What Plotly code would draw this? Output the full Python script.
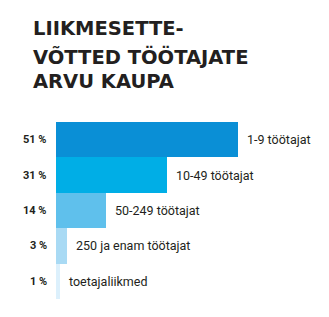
import plotly.graph_objects as go

title_lines = ["LIIKMESETTE-", "VÕTTED TÖÖTAJATE", "ARVU KAUPA"]
categories = ["1-9 töötajat", "10-49 töötajat", "50-249 töötajat", "250 ja enam töötajat", "toetajaliikmed"]
values = [51, 31, 14, 3, 1]
pct_labels = ["51 %", "31 %", "14 %", "3 %", "1 %"]
colors = ["#0a8fd6", "#00aee6", "#5fc0ec", "#a9daf4", "#dcf0fc"]

W, H = 329, 317
ml, mt, mb = 56, 122, 18
xmax = 70
plot_w = xmax * 3.57
mr = W - ml - plot_w
plot_h = H - mt - mb

fig = go.Figure(go.Bar(
    x=values, y=categories, orientation="h",
    marker=dict(color=colors, line=dict(width=0)),
    hoverinfo="skip",
))

ann = []
for c, v, p in zip(categories, values, pct_labels):
    ann.append(dict(x=0, y=c, xref="x", yref="y", text=p, showarrow=False,
                    xanchor="right", yanchor="middle", xshift=-7,
                    font=dict(family="Roboto", size=11, color="#231f20", weight="bold")))
    ann.append(dict(x=v, y=c, xref="x", yref="y", text=c, showarrow=False,
                    xanchor="left", yanchor="middle", xshift=7,
                    font=dict(family="Roboto", size=12.5, color="#231f20")))

title_centers = [28.2, 56.5, 81]
for t, yc in zip(title_lines, title_centers):
    ann.append(dict(x=(31 - ml) / plot_w, y=(H - mb - yc) / plot_h, xref="paper", yref="paper",
                    text=t, showarrow=False, xanchor="left", yanchor="middle",
                    font=dict(family="DejaVu Sans", size=19.5, color="#231f20", weight="bold")))

fig.update_layout(
    width=W, height=H,
    margin=dict(l=ml, r=mr, t=mt, b=mb, pad=0),
    paper_bgcolor="white", plot_bgcolor="white",
    bargap=0, showlegend=False,
    xaxis=dict(range=[0, xmax], visible=False, fixedrange=True),
    yaxis=dict(autorange="reversed", visible=False, fixedrange=True),
    annotations=ann,
)

fig.write_html("out.html", config={"displayModeBar": False})
